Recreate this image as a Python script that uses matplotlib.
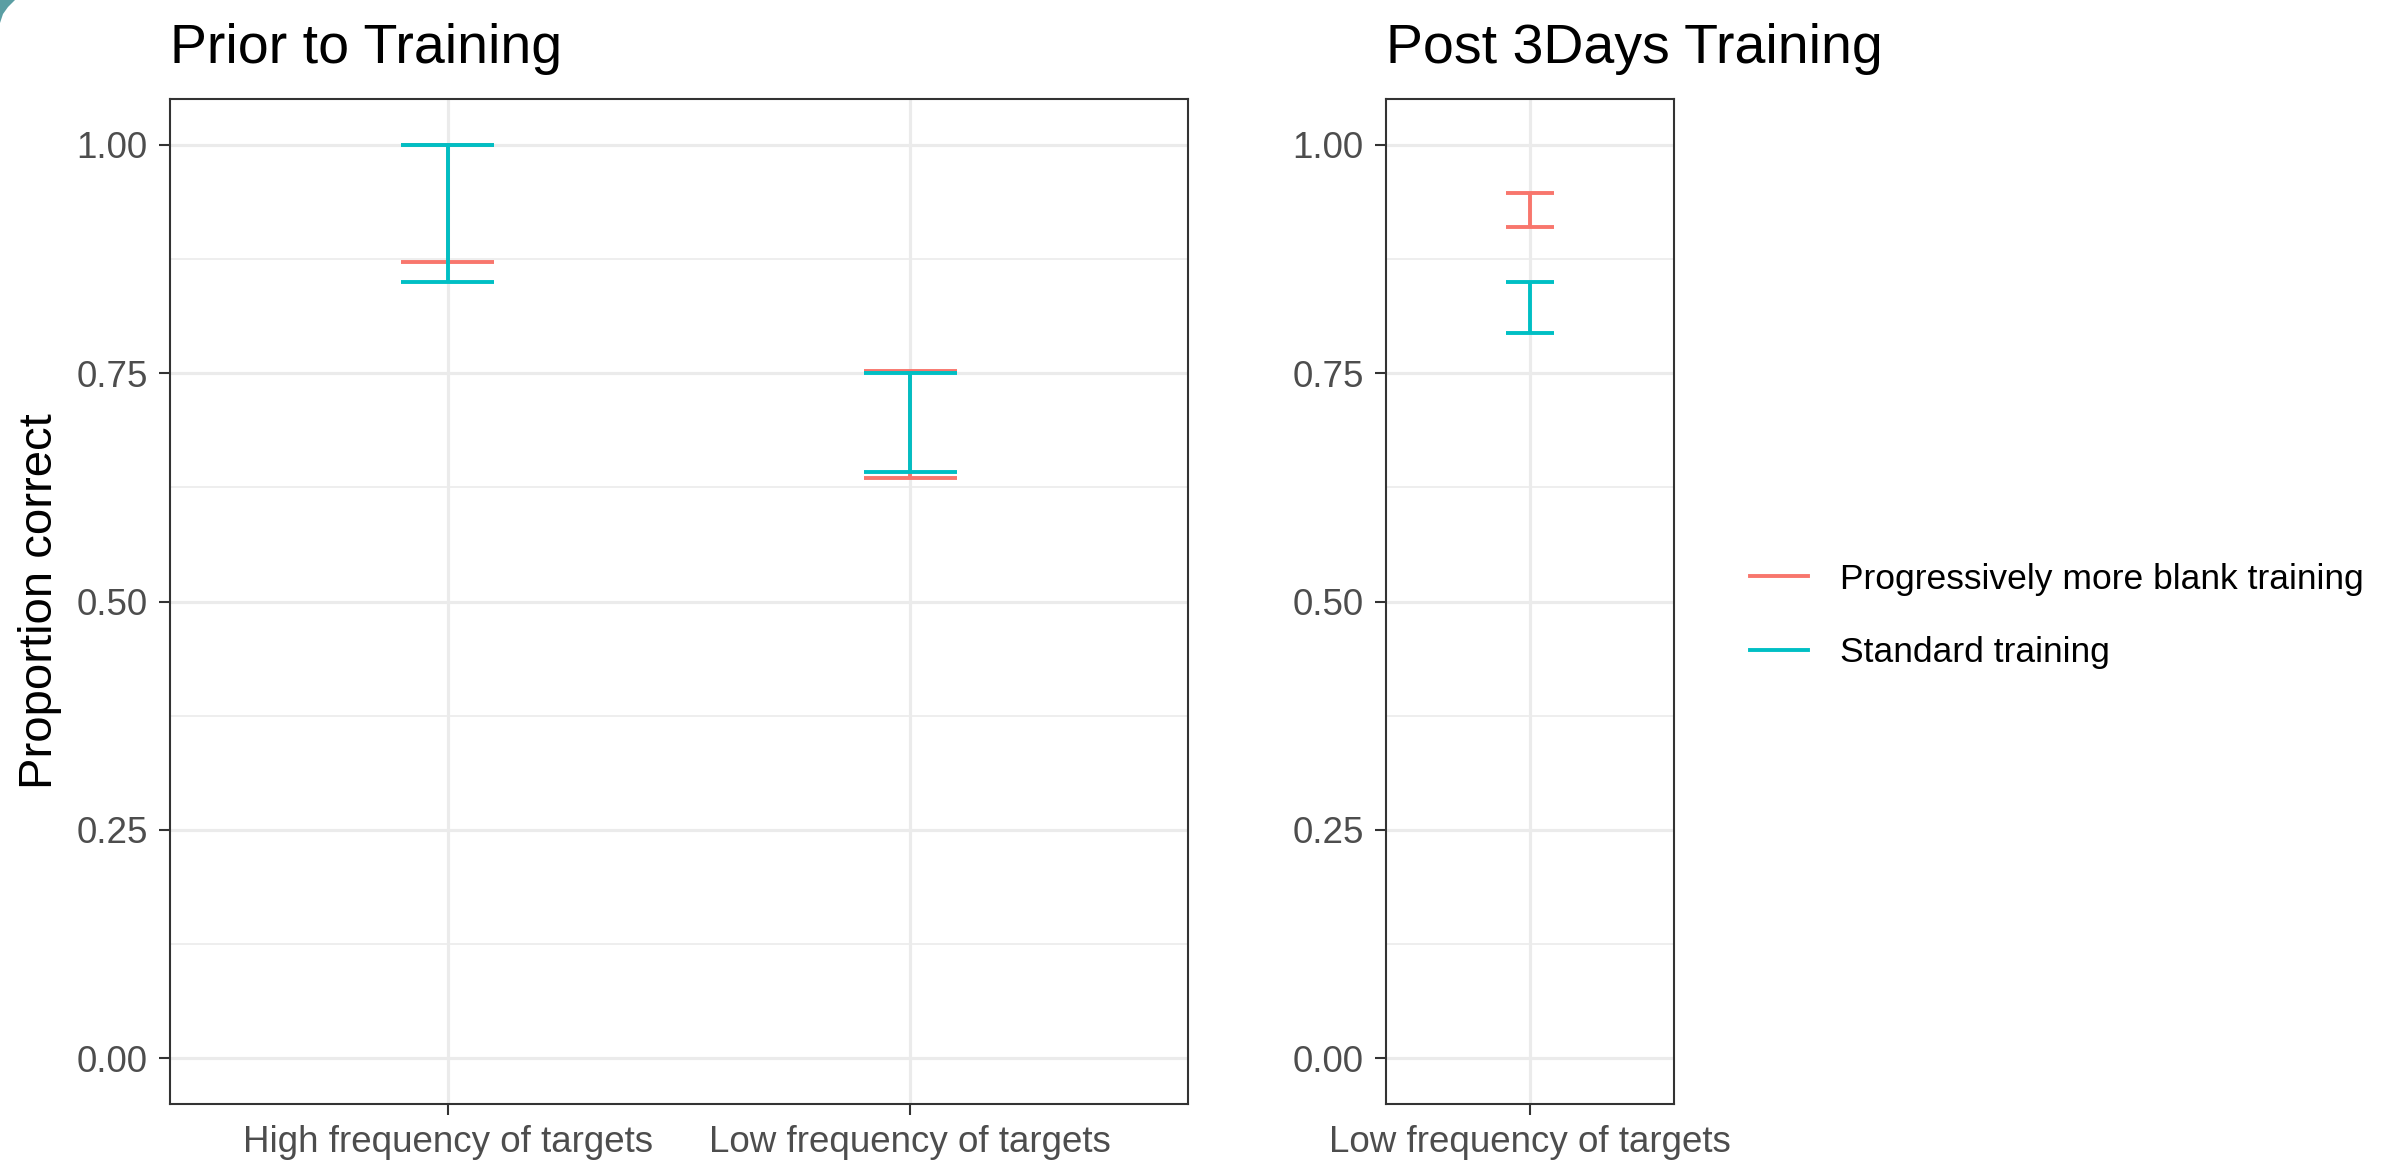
import matplotlib
matplotlib.use("Agg")
import matplotlib.pyplot as plt
from matplotlib.lines import Line2D
from matplotlib.patches import Polygon
import numpy as np

plt.rcParams["font.family"] = ["Liberation Sans", "DejaVu Sans"]

# data
groups = ["Progressively more blank training", "Standard training"]
colors = ["#F8766D", "#00BFC4"]

prior_cats = ["High frequency of targets", "Low frequency of targets"]
prior_blank_lo = [0.872, 0.635]
prior_blank_hi = [1.000, 0.752]
prior_std_lo = [0.850, 0.642]
prior_std_hi = [1.000, 0.750]

post_cats = ["Low frequency of targets"]
post_blank_lo = [0.910]
post_blank_hi = [0.947]
post_std_lo = [0.794]
post_std_hi = [0.850]

y_ticks = [0.0, 0.25, 0.5, 0.75, 1.0]
y_minor = [0.125, 0.375, 0.625, 0.875]

W, H = 2402, 1167
fig = plt.figure(figsize=(W / 100, H / 100), dpi=100)

ax1 = fig.add_axes([170 / W, 1 - 1104 / H, (1188 - 170) / W, (1104 - 99) / H])
ax2 = fig.add_axes([1386 / W, 1 - 1104 / H, (1674 - 1386) / W, (1104 - 99) / H])

tick_fs = 26.5
legend_fs = 25.5
cap_w = 0.2
lw = 2.8


def draw_bars(ax, cats, lo, hi, color):
    x = np.arange(1, len(cats) + 1)
    ax.vlines(x, lo, hi, color=color, linewidth=lw, zorder=3)
    ax.hlines(lo, x - cap_w / 2, x + cap_w / 2, color=color, linewidth=lw, zorder=3)
    ax.hlines(hi, x - cap_w / 2, x + cap_w / 2, color=color, linewidth=lw, zorder=3)


def style(ax, cats, title):
    ax.set_xlim(0.4, len(cats) + 0.6)
    ax.set_ylim(-0.05, 1.05)
    ax.set_xticks(np.arange(1, len(cats) + 1))
    ax.set_xticklabels(cats)
    ax.set_yticks(y_ticks)
    ax.set_yticklabels([f"{v:.2f}" for v in y_ticks])
    ax.set_yticks(y_minor, minor=True)
    ax.tick_params(axis="both", which="major", labelsize=tick_fs, labelcolor="#4D4D4D",
                   color="#333333", width=1.5, length=8)
    ax.tick_params(axis="y", pad=8)
    ax.tick_params(axis="x", pad=7)
    ax.tick_params(which="minor", length=0)
    ax.grid(True, which="major", color="#EBEBEB", linewidth=2.3, zorder=0)
    ax.grid(True, which="minor", axis="y", color="#EBEBEB", linewidth=1.2, zorder=0)
    ax.set_axisbelow(True)
    for sp in ax.spines.values():
        sp.set_color("#333333")
        sp.set_linewidth(1.5)
    ax.set_title(title, loc="left", fontsize=40, pad=26)


draw_bars(ax1, prior_cats, prior_blank_lo, prior_blank_hi, colors[0])
draw_bars(ax1, prior_cats, prior_std_lo, prior_std_hi, colors[1])
draw_bars(ax2, post_cats, post_blank_lo, post_blank_hi, colors[0])
draw_bars(ax2, post_cats, post_std_lo, post_std_hi, colors[1])

style(ax1, prior_cats, "Prior to Training")
style(ax2, post_cats, "Post 3Days Training")

fig.text(40 / W, 1 - 601 / H, "Proportion correct", rotation=90, ha="center", va="center",
         fontsize=34)

handles = [Line2D([], [], color=c, linewidth=lw) for c in colors]
fig.legend(handles, groups, loc="center left", bbox_to_anchor=(1750 / W, 1 - 616 / H),
           frameon=False, fontsize=legend_fs, handlelength=1.65, handletextpad=0.88,
           labelspacing=1.14, borderpad=0, borderaxespad=0)

# slide corner in the top-left
fig.patches.append(Polygon([(0, 1), (15 / W, 1), (8 / W, 1 - 7 / H), (3 / W, 1 - 14 / H), (0, 1 - 23 / H)],
                           closed=True, transform=fig.transFigure, facecolor="#5A9EA3",
                           edgecolor="none"))

fig.savefig("out.png", dpi=100)
